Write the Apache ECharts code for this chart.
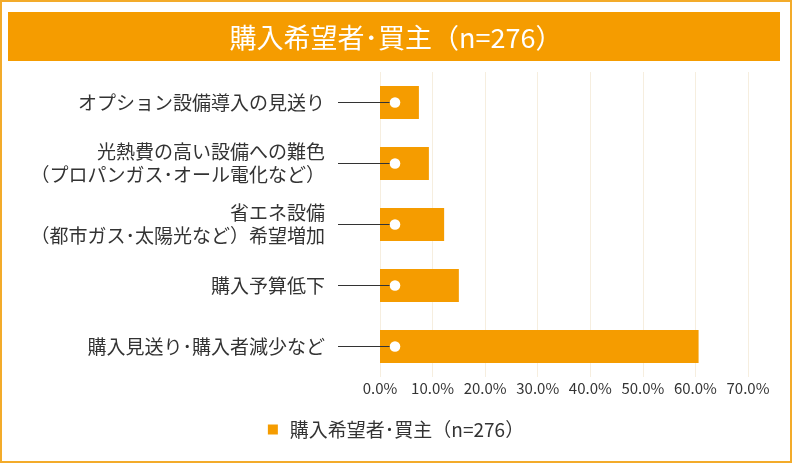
<!DOCTYPE html>
<html>
<head>
<meta charset="utf-8">
<script src="https://cdn.jsdelivr.net/npm/echarts@6/dist/echarts.min.js"></script>
<style>
  html, body { margin: 0; padding: 0; background: #fff; }
  #main { width: 792px; height: 463px; }
</style>
</head>
<body>
<div id="main"></div>
<script>
// 項目（上から順）
var categories = [
    'オプション設備導入の見送り',
    '光熱費の高い設備への難色\n（プロパンガス･オール電化など）',
    '省エネ設備\n（都市ガス･太陽光など）希望増加',
    '購入予算低下',
    '購入見送り･購入者減少など'
];
// 割合（%）
var values = [7.4, 9.3, 12.2, 15.0, 60.6];
var seriesName = '購入希望者･買主（n=276）';
var tickStep = 10;
var tickMax = 70;

var orange = '#f59c00';
var font = '"Noto Sans CJK JP", "Noto Sans", sans-serif';

var myChart = echarts.init(document.getElementById('main'));

var option = {
    backgroundColor: '#fff',
    animation: false,
    textStyle: { fontFamily: font },
    graphic: [
        // 外枠
        {
            type: 'rect', z: -10,
            shape: { x: 1, y: 1, width: 790, height: 461 },
            style: { fill: '#fff', stroke: '#f3ab2a', lineWidth: 2 }
        },
        // タイトル帯
        {
            type: 'rect', z: -5,
            shape: { x: 8, y: 12, width: 772, height: 49 },
            style: { fill: orange }
        }
    ],
    title: {
        text: seriesName,
        left: 'center',
        top: 19,
        textStyle: { color: '#fff', fontSize: 27, fontWeight: 'normal', fontFamily: font }
    },
    legend: {
        data: [seriesName],
        bottom: 19,
        left: 'center',
        icon: 'rect',
        itemWidth: 10,
        itemHeight: 10,
        itemGap: 10,
        textStyle: { color: '#333', fontSize: 19, fontFamily: font, padding: [0, 0, 0, 7] }
    },
    grid: {
        left: 380,
        right: 44,
        top: 72,
        height: 305,
        containLabel: false
    },
    xAxis: {
        type: 'value',
        min: 0,
        max: tickMax,
        interval: tickStep,
        axisLine: { show: false },
        axisTick: { show: false },
        splitLine: { lineStyle: { color: '#f6eedf', width: 1 } },
        axisLabel: {
            color: '#333',
            fontSize: 15,
            margin: 4,
            formatter: function (v) { return v.toFixed(1) + '%'; }
        }
    },
    yAxis: {
        type: 'category',
        data: categories,
        inverse: true,
        axisLine: { show: false },
        axisTick: { show: false },
        axisLabel: {
            color: '#333',
            fontSize: 19,
            lineHeight: 23,
            margin: 55,
            align: 'right'
        }
    },
    series: [
        {
            name: seriesName,
            type: 'bar',
            data: values,
            barWidth: 33,
            itemStyle: { color: orange },
            z: 2
        },
        {
            // 引き出し線と白丸
            type: 'custom',
            z: 5,
            silent: true,
            encode: { x: 0, y: 1 },
            data: categories.map(function (c, i) { return [0, i]; }),
            renderItem: function (params, api) {
                var p = api.coord([0, api.value(1)]);
                return {
                    type: 'group',
                    children: [
                        {
                            type: 'line',
                            shape: { x1: p[0] - 42, y1: p[1], x2: p[0] + 10, y2: p[1] },
                            style: { stroke: '#333', lineWidth: 1 }
                        },
                        {
                            type: 'circle',
                            shape: { cx: p[0] + 15, cy: p[1], r: 5.3 },
                            style: { fill: '#fff' }
                        }
                    ]
                };
            }
        }
    ]
};

myChart.setOption(option);
</script>
</body>
</html>
